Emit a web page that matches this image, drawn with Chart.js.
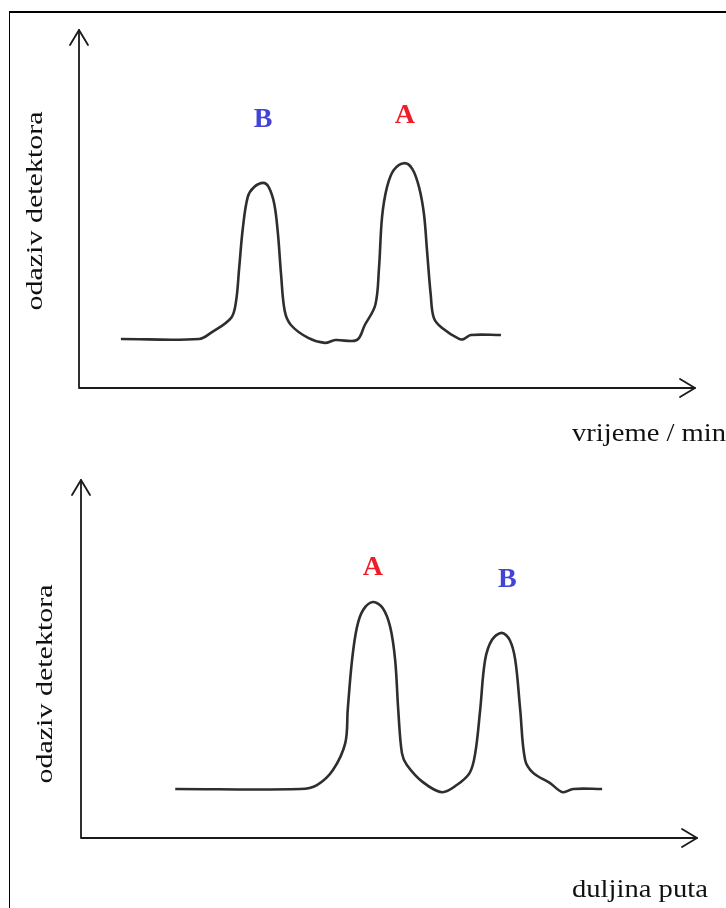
<!DOCTYPE html>
<html>
<head>
<meta charset="utf-8">
<script src="https://cdn.jsdelivr.net/npm/chart.js@4.4.1/dist/chart.umd.min.js"></script>
<style>
  html, body { margin: 0; padding: 0; background: #fff; }
  body { width: 726px; height: 908px; position: relative; overflow: hidden; }
  .frame { position: absolute; left: 9px; top: 11px; width: 800px; height: 1000px;
           border-top: 2px solid #000; border-left: 1.5px solid #000; }
  .box { position: absolute; left: 0; width: 726px; height: 454px; }
  #top { top: 0; }
  #bottom { top: 454px; }
</style>
</head>
<body>
<div class="frame"></div>
<div class="box" id="top"><canvas id="chart-vrijeme"></canvas></div>
<div class="box" id="bottom"><canvas id="chart-duljina"></canvas></div>
<script>
// gornji kromatogram (odaziv vs vrijeme)
const vrijemeX = [6.8, 19.5, 21.4, 24.7, 25.5, 26.0, 26.6, 27.4, 28.4, 29.9, 30.8, 31.7, 32.3, 32.8, 33.4, 34.4,
    37.2, 39.9, 41.6, 45.1, 46.4, 48.1, 48.7, 49.2, 50.0, 51.1, 52.8, 54.1, 55.2, 56.0, 56.5, 57.1, 57.6,
    58.9, 61.7, 62.5, 63.6, 68.5];
const vrijemeY = [13.7, 13.7, 15.4, 19.6, 24.3, 33.5, 44.7, 53.4, 56.1, 57.3, 56.1, 51.4, 43.0, 31.8, 21.5, 17.6,
    14.0, 12.6, 13.4, 13.4, 17.6, 23.2, 33.5, 47.8, 56.1, 60.9, 62.8, 61.2, 56.1, 48.6, 38.3, 26.0, 19.6,
    16.8, 13.7, 13.7, 14.8, 14.8];
const vrijemeVrhovi = ['B', 'A'];
const vrijemeVrhX = [29.9, 52.9];
const vrijemeVrhY = [74.9, 76.0];

// donji kromatogram (odaziv vs duljina puta)
const duljinaX = [15.3, 35.6, 38.3, 40.9, 42.9, 43.3, 44.0, 44.8, 45.8, 47.4, 49.0, 50.2, 51.0, 51.5, 52.1, 52.9,
    55.5, 58.6, 61.0, 63.1, 64.0, 64.8, 65.6, 66.7, 68.3, 69.6, 70.5, 71.3, 72.1, 73.4, 76.1, 78.2, 79.9, 84.6];
const duljinaY = [13.7, 13.7, 14.8, 19.0, 26.5, 35.8, 49.7, 58.9, 63.7, 65.9, 64.2, 58.9, 49.7, 35.8, 23.7, 20.4,
    15.6, 12.8, 14.8, 18.2, 23.7, 35.8, 49.7, 55.3, 57.3, 55.3, 49.7, 35.8, 21.8, 18.2, 15.4, 12.8, 13.7, 13.7];
const duljinaVrhovi = ['A', 'B'];
const duljinaVrhX = [47.4, 69.2];
const duljinaVrhY = [75.4, 72.1];

const boje = { A: '#ee1d2a', B: '#4343d6' };

// strelice na osima, natpisi osi i oznake vrhova
function osiPlugin(xNaslov, yNaslov, yPomak, yCentar, xNaslovY, imena, vx, vy) {
    return {
        id: 'osi',
        afterDatasetsDraw(chart) {
            const ctx = chart.ctx;
            const a = chart.chartArea;
            const xs = chart.scales.x, ys = chart.scales.y;
            ctx.save();
            ctx.strokeStyle = '#1a1a1a';
            ctx.lineWidth = 1.8;
            ctx.lineCap = 'round';
            ctx.lineJoin = 'round';
            ctx.beginPath();
            ctx.moveTo(a.left, a.top);
            ctx.lineTo(a.left, a.bottom);
            ctx.lineTo(a.right, a.bottom);
            ctx.stroke();
            ctx.beginPath();
            ctx.moveTo(a.left - 9, a.top + 15);
            ctx.lineTo(a.left, a.top);
            ctx.lineTo(a.left + 9, a.top + 15);
            ctx.moveTo(a.right - 15, a.bottom - 9);
            ctx.lineTo(a.right, a.bottom);
            ctx.lineTo(a.right - 15, a.bottom + 9);
            ctx.stroke();

            ctx.fillStyle = '#111';
            ctx.save();
            ctx.translate(572, xNaslovY);
            ctx.scale(1.1, 1);
            ctx.font = '26px "Liberation Serif", "Times New Roman", serif';
            ctx.textAlign = 'left';
            ctx.textBaseline = 'alphabetic';
            ctx.fillText(xNaslov, 0, 0);
            ctx.restore();

            ctx.save();
            ctx.translate(yPomak, yCentar);
            ctx.rotate(-Math.PI / 2);
            ctx.scale(1, 0.8);
            ctx.textAlign = 'center';
            ctx.textBaseline = 'middle';
            ctx.font = '30px "Liberation Serif", "Times New Roman", serif';
            ctx.fillText(yNaslov, 0, 0);
            ctx.restore();

            ctx.font = 'bold 28px "Liberation Serif", "Times New Roman", serif';
            ctx.textAlign = 'center';
            ctx.textBaseline = 'middle';
            imena.forEach((ime, i) => {
                ctx.fillStyle = boje[ime];
                ctx.fillText(ime, xs.getPixelForValue(vx[i]), ys.getPixelForValue(vy[i]));
            });
            ctx.restore();
        }
    };
}

function napraviGraf(id, xs, ys, padding, plugin) {
    return new Chart(document.getElementById(id), {
        type: 'line',
        data: {
            datasets: [{
                data: xs.map((x, i) => ({ x: x, y: ys[i] })),
                borderColor: '#2e2e2e',
                borderWidth: 2.6,
                pointRadius: 0,
                fill: false,
                tension: 0.35
            }]
        },
        options: {
            responsive: true,
            maintainAspectRatio: false,
            animation: false,
            layout: { padding: padding },
            plugins: { legend: { display: false }, tooltip: { enabled: false } },
            scales: {
                x: { type: 'linear', min: 0, max: 100, display: false },
                y: { min: 0, max: 100, display: false }
            }
        },
        plugins: [plugin]
    });
}

napraviGraf('chart-vrijeme', vrijemeX, vrijemeY,
    { left: 79, right: 31, top: 30, bottom: 66 },
    osiPlugin('vrijeme / min', 'odaziv detektora', 36, 211, 441, vrijemeVrhovi, vrijemeVrhX, vrijemeVrhY));

napraviGraf('chart-duljina', duljinaX, duljinaY,
    { left: 81, right: 29, top: 26, bottom: 70 },
    osiPlugin('duljina puta', 'odaziv detektora', 46, 230, 443, duljinaVrhovi, duljinaVrhX, duljinaVrhY));
</script>
</body>
</html>
